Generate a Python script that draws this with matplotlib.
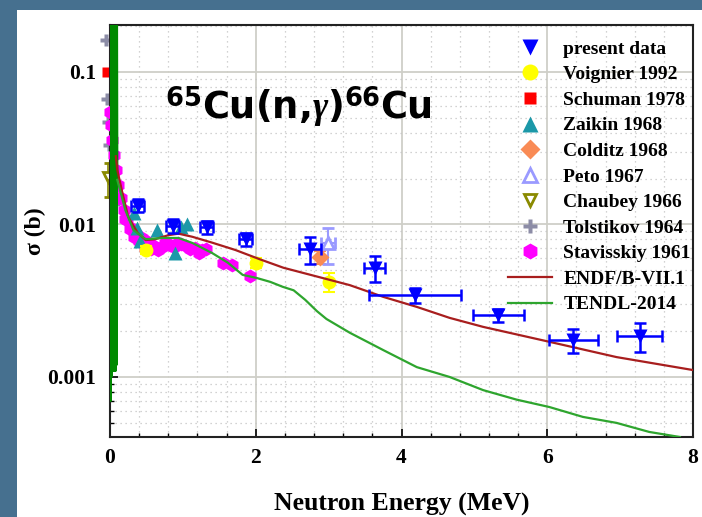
import matplotlib
matplotlib.use("Agg")
import matplotlib.pyplot as plt
from matplotlib.patches import Rectangle
from matplotlib.ticker import (FixedLocator, MultipleLocator, LogLocator,
                               NullFormatter, FuncFormatter)

# ---------------- data ----------------
# present measurement (energy in MeV, cross section in barn)
present_e = [0.38, 0.86, 1.33, 1.86, 2.74, 3.63, 4.19, 5.33, 6.36, 7.27]
present_xs = [0.0133, 0.0098, 0.0096, 0.0080, 0.0069, 0.0052, 0.00345, 0.00255, 0.00175, 0.00186]
present_de = [0.09, 0.09, 0.09, 0.09, 0.15, 0.15, 0.63, 0.35, 0.33, 0.31]
present_dxs = [0.0013, 0.0010, 0.0010, 0.0008, 0.0014, 0.0010, 0.0004, 0.00025, 0.00032, 0.0004]

voignier_e = [0.49, 2.00, 3.01]
voignier_xs = [0.0068, 0.0056, 0.0042]
voignier_dxs = [0.0004, 0.0004, 0.0006]

schuman_e = [-0.04]
schuman_xs = [0.100]

zaikin_e = [0.33, 0.37, 0.41, 0.64, 0.89, 0.97, 1.05]
zaikin_xs = [0.0118, 0.0095, 0.0078, 0.0092, 0.0065, 0.0096, 0.0100]

colditz_e = [2.88]
colditz_xs = [0.0061]
colditz_dxs = [0.0006]

peto_e = [2.99]
peto_xs = [0.0076]
peto_dxs_lo = [0.0021]
peto_dxs_hi = [0.0019]
peto_de = [0.10]

chaubey_e = [-0.03]
chaubey_xs = [0.0205]
chaubey_dxs_lo = [0.0054]
chaubey_dxs_hi = [0.0048]

tolstikov_e = [-0.05, -0.04, -0.03, -0.02, 0.00, 0.11]
tolstikov_xs = [0.162, 0.066, 0.047, 0.033, 0.021, 0.0145]

stav_e = [0.00, 0.01, 0.03, 0.05, 0.08, 0.11, 0.13, 0.15, 0.19, 0.21, 0.23, 0.27,
          0.29, 0.33, 0.36, 0.40, 0.44, 0.48, 0.52, 0.56, 0.60, 0.66, 0.71, 0.76,
          0.82, 0.88, 0.93, 0.98, 1.04, 1.10, 1.16, 1.22, 1.26, 1.32, 1.55, 1.67,
          1.92]
stav_xs = [0.0547, 0.0449, 0.0358, 0.0286, 0.0228, 0.0182, 0.0150, 0.0149, 0.0125,
           0.0108, 0.0107, 0.0094, 0.0095, 0.0083, 0.0087, 0.0078, 0.0082, 0.0070,
           0.0077, 0.0069, 0.0072, 0.0068, 0.0071, 0.0075, 0.0073, 0.0071, 0.0076,
           0.0074, 0.0072, 0.0069, 0.0070, 0.0065, 0.0068, 0.0069, 0.0056, 0.0054,
           0.0046]

endf_e = [0.08, 0.10, 0.17, 0.25, 0.38, 0.49, 0.62, 0.80, 0.94, 1.13, 1.40, 1.72,
          2.06, 2.38, 3.29, 3.75, 4.21, 4.66, 5.12, 6.03, 6.95, 8.00]
endf_xs = [0.028, 0.0228, 0.0161, 0.0112, 0.0088, 0.0079, 0.0080, 0.0085, 0.0087,
           0.0083, 0.0076, 0.0068, 0.0059, 0.0052, 0.0040, 0.00335, 0.00288, 0.00244,
           0.00213, 0.00170, 0.00135, 0.00111]

# TENDL: resolved-resonance region below 0.1 MeV, then the smooth part
tendl_res_e = [0.000, 0.004, 0.008, 0.012, 0.016, 0.020, 0.025, 0.030, 0.035, 0.040,
               0.045, 0.050, 0.055, 0.060, 0.065, 0.070, 0.075, 0.080, 0.085, 0.090,
               0.095, 0.100]
tendl_res_xs = [0.30, 0.0007, 0.30, 0.0007, 0.30, 0.0010, 0.30, 0.0011, 0.30, 0.0011,
                0.30, 0.0011, 0.30, 0.0011, 0.30, 0.0011, 0.30, 0.0011, 0.30, 0.0012,
                0.30, 0.0196]
tendl_e = [0.10, 0.21, 0.32, 0.49, 0.72, 0.94, 1.13, 1.40, 1.62, 1.82, 2.01, 2.20,
           2.37, 2.52, 2.68, 2.84, 2.97, 3.29, 3.75, 4.21, 4.66, 5.12, 5.58, 6.03,
           6.49, 6.95, 7.40, 7.82]
tendl_xs = [0.0196, 0.01245, 0.0092, 0.0080, 0.00815, 0.00815, 0.00756, 0.0065,
            0.0056, 0.00467, 0.00446, 0.0042, 0.0039, 0.0037, 0.0032, 0.0027, 0.0024,
            0.00195, 0.0015, 0.00116, 0.00100, 0.00082, 0.00071, 0.000635, 0.000547,
            0.0005, 0.000436, 0.000404]

x_ticks = [0, 2, 4, 6, 8]
y_ticks = [0.001, 0.01, 0.1]
y_tick_labels = ["0.001", "0.01", "0.1"]

# ---------------- style ----------------
plt.rcParams['mathtext.fontset'] = 'custom'
plt.rcParams['mathtext.rm'] = 'DejaVu Sans:bold'
plt.rcParams['mathtext.bf'] = 'DejaVu Sans:bold'
plt.rcParams['mathtext.it'] = 'Liberation Serif:italic:bold'

SERIF = 'Liberation Serif'
W, H = 702, 517

fig = plt.figure(figsize=(W / 100, H / 100), dpi=100)
fig.patch.set_facecolor('#46708f')
fig.add_artist(Rectangle((17 / W, 0), 1 - 17 / W, 1 - 10 / H,
                         transform=fig.transFigure, facecolor='white',
                         edgecolor='none', zorder=0))

ax = fig.add_axes([110 / W, 1 - 437 / H, 583 / W, 412 / H])
ax.set_facecolor('white')
ax.set_yscale('log')
ax.set_xlim(0, 8)
ax.set_ylim(4.04e-4, 0.203)

ax.xaxis.set_major_locator(FixedLocator(x_ticks))
ax.xaxis.set_minor_locator(MultipleLocator(0.4))
ax.yaxis.set_major_locator(FixedLocator(y_ticks))
ax.yaxis.set_major_formatter(FuncFormatter(
    lambda v, p: y_tick_labels[y_ticks.index(min(y_ticks, key=lambda t: abs(t - v)))]))
ax.yaxis.set_minor_locator(LogLocator(base=10, subs=range(2, 10)))
ax.yaxis.set_minor_formatter(NullFormatter())

ax.set_axisbelow(True)
ax.grid(which='major', color='#cfcfc8', lw=1.3, ls='-')
ax.grid(which='minor', color='#c4c4c4', lw=0.9, ls=(0, (1, 3)))

ax.tick_params(which='both', direction='in', colors='black')
ax.tick_params(which='major', length=6, width=1.2)
ax.tick_params(which='minor', length=3, width=1.0)
ax.tick_params(axis='x', pad=8)
ax.tick_params(axis='y', pad=10)
for lab in ax.get_xticklabels() + ax.get_yticklabels():
    lab.set_fontfamily(SERIF)
    lab.set_fontweight('bold')
    lab.set_fontsize(15.5)
for s in ax.spines.values():
    s.set_linewidth(1.5)
    s.set_color('#222222')

# ---------------- marks ----------------
ax.plot(tendl_res_e, tendl_res_xs, color='#008a00', lw=1.6, zorder=6)

stav, = ax.plot(stav_e, stav_xs, 'h', color='#ff00ff', ms=10, mec='none',
                zorder=3, clip_on=False, label='Stavisskiy 1961')
zaik, = ax.plot(zaikin_e, zaikin_xs, '^', color='#1b98a8', ms=10, mec='none',
                zorder=4, label='Zaikin 1968')
voig = ax.errorbar(voignier_e, voignier_xs, yerr=voignier_dxs, fmt='o',
                   color='#ffff00', ms=10, mec='none', elinewidth=1.5,
                   capsize=4, capthick=1.5, zorder=4, label='Voignier 1992')
tols, = ax.plot(tolstikov_e, tolstikov_xs, 'P', color='#8c8ca6', ms=9, mec='none',
                zorder=2, clip_on=False, label='Tolstikov 1964')
schu, = ax.plot(schuman_e, schuman_xs, 's', color='#ff0000', ms=7, mec='none',
                zorder=2, clip_on=False, label='Schuman 1978')
chau = ax.errorbar(chaubey_e, chaubey_xs, yerr=[chaubey_dxs_lo, chaubey_dxs_hi],
                   fmt='v', color='#8a8a00', mfc='white', mew=2, ms=7,
                   elinewidth=1.2, capsize=3, zorder=2, label='Chaubey 1966')
for art in (chau[0],) + chau.lines[1] + tuple(chau.lines[2]):
    art.set_clip_on(False)
cold = ax.errorbar(colditz_e, colditz_xs, yerr=colditz_dxs, fmt='D',
                   color='#f98b55', ms=9, mec='none', elinewidth=1.5,
                   capsize=4, capthick=1.5, zorder=4, label='Colditz 1968')
peto = ax.errorbar(peto_e, peto_xs, yerr=[peto_dxs_lo, peto_dxs_hi], xerr=peto_de,
                   fmt='^', color='#9a9aff', mfc='white', mew=2, ms=9,
                   elinewidth=1.5, capsize=4, capthick=1.5, zorder=4,
                   label='Peto 1967')

endf, = ax.plot(endf_e, endf_xs, color='#a81e1e', lw=1.6, zorder=6,
                label='ENDF/B-VII.1')
tendl, = ax.plot(tendl_e, tendl_xs, color='#2ea52e', lw=1.6, zorder=6,
                 label='TENDL-2014')

pres = ax.errorbar(present_e, present_xs, yerr=present_dxs, xerr=present_de,
                   fmt='v', color='#0000ff', ms=10, mec='none', elinewidth=1.8,
                   capsize=4.5, capthick=1.8, zorder=8, label='present data')

handles = [pres[0], voig[0], schu, zaik, cold[0], peto[0], chau[0], tols, stav,
           endf, tendl]
labels = ['present data', 'Voignier 1992', 'Schuman 1978', 'Zaikin 1968',
          'Colditz 1968', 'Peto 1967', 'Chaubey 1966', 'Tolstikov 1964',
          'Stavisskiy 1961', 'ENDF/B-VII.1', 'TENDL-2014']
leg = ax.legend(handles, labels, loc='upper left',
                bbox_to_anchor=(508 / W, 1 - 40 / H), bbox_transform=fig.transFigure,
                frameon=False, prop=dict(family=SERIF, weight='bold', size=14),
                handlelength=2.27, handletextpad=0.57, labelspacing=0.41,
                borderpad=0, borderaxespad=0, numpoints=1, markerscale=1.15)
leg.set_zorder(10)

# ---------------- labels ----------------
ax.set_xlabel('Neutron Energy (MeV)', fontfamily=SERIF, fontweight='bold',
              fontsize=18.5)
ax.xaxis.set_label_coords(0.5, -0.136)
ax.set_ylabel('σ (b)', fontfamily=SERIF, fontweight='bold', fontsize=17)
ax.yaxis.set_label_coords(-0.11, 0.5)

fig.text(165 / W, 1 - 120 / H, r'$^{65}$Cu(n,$\gamma$)$^{66}$Cu', fontsize=26.5,
         fontfamily='DejaVu Sans', fontweight='bold', ha='left', va='baseline')

fig.savefig('out.png', dpi=100, facecolor=fig.get_facecolor())
